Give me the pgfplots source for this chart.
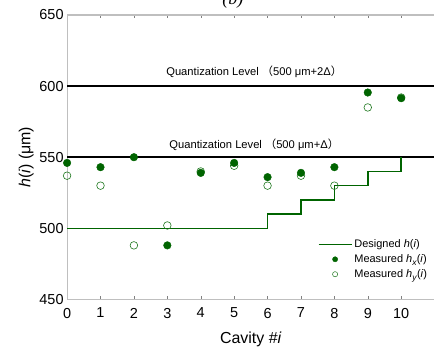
\documentclass[border=0pt]{standalone}
\usepackage{pgfplots}
\pgfplotsset{compat=1.18}
\usepackage{fontspec}
\setmainfont{Liberation Sans}
\newfontfamily\cjk{Noto Sans CJK SC}
\newfontfamily\serifit{Liberation Serif}
\definecolor{dg}{RGB}{0,100,0}
\definecolor{lg}{RGB}{30,120,30}
\newcommand{\sub}[1]{\raisebox{-0.45ex}{\fontsize{8.5}{8.5}\selectfont\textit{#1}}}
\pgfplotsset{
  legline/.style={legend image code/.code={\draw[##1, line width=1.5bp] (0bp,0bp) -- (33bp,0bp);}},
  legmark/.style={legend image code/.code={\draw[##1, mark size=2.6bp] plot coordinates {(16.5bp,0bp)};}},
}
\begin{document}
\begin{tikzpicture}[x=1bp,y=1bp]
\begin{axis}[
  name=ax,
  scale only axis,
  width=367bp, height=284bp,
  xmin=0, xmax=11, ymin=450, ymax=650,
  xtick={0,1,...,10},
  ytick={450,500,550,600,650},
  tick align=inside,
  major tick length=3bp,
  ytick style={draw=none},
  xtick pos=both,
  axis line style={draw=gray!85, line width=0.6bp},
  y axis line style={draw=gray!50, line width=1.1bp},
  /pgf/number format/assume math mode=true,
  tick label style={font=\fontsize{14.5}{14.5}\selectfont},
  xticklabel style={yshift=-5bp},
  label style={font=\fontsize{16}{16}\selectfont},
  xlabel={Cavity \#\textit{i}},
  ylabel={\textit{h}(\textit{i}) (μm)},
  xlabel style={yshift=-7bp},
  ylabel style={yshift=-1bp},
  clip=false,
  legend style={draw=none, fill=none, font=\fontsize{11}{12}\selectfont,
    at={(0.988,0.225)}, anchor=north east, row sep=1.5bp,
    inner xsep=1bp, legend cell align=left},
]
\addplot[black, line width=1.6bp, forget plot] coordinates {(0,600) (11,600)};
\addplot[black, line width=1.6bp, forget plot] coordinates {(0,550) (11,550)};
\node[font=\fontsize{11.2}{12}\selectfont] at (axis cs:5.6,610) {Quantization Level {\cjk （}500 μm+2Δ{\cjk ）}};
\node[font=\fontsize{11.2}{12}\selectfont] at (axis cs:5.6,559) {Quantization Level {\cjk （}500 μm+Δ{\cjk ）}};
\addplot[dg, line width=1.5bp, legline] coordinates {
(0,500) (6,500) (6,510) (7,510) (7,520) (8,520) (8,530) (9,530) (9,540) (10,540) (10,550)};
\addlegendentry{Designed \textit{h}(\textit{i})}
\addplot[only marks, mark=o, mark size=3.8bp, draw=lg, line width=0.6bp, forget plot] coordinates {
(0,537) (1,530) (2,488) (3,502) (4,540) (5,544) (6,530) (7,537) (8,530) (9,585) (10,592)};
\addplot[only marks, mark=*, mark size=3.8bp, draw=dg, fill=dg, legmark] coordinates {
(0,546) (1,543) (2,550) (3,488) (4,539) (5,546) (6,536) (7,539) (8,543) (9,595.5) (10,591.5)};
\addlegendentry{Measured \textit{h}\sub{x}(\textit{i})}
\addlegendimage{only marks, mark=o, draw=lg, line width=0.5bp, legmark}
\addlegendentry{Measured \textit{h}\sub{y}(\textit{i})}
\end{axis}
\node[font=\fontsize{18}{18}\selectfont\serifit\itshape, anchor=base] at ([xshift=-18bp,yshift=11bp]ax.north) {(b)};
\pgfresetboundingbox
\path[use as bounding box] ([xshift=-67bp,yshift=-47bp]ax.south west) rectangle ([xshift=-0.6bp,yshift=15bp]ax.north east);
\end{tikzpicture}
\end{document}
